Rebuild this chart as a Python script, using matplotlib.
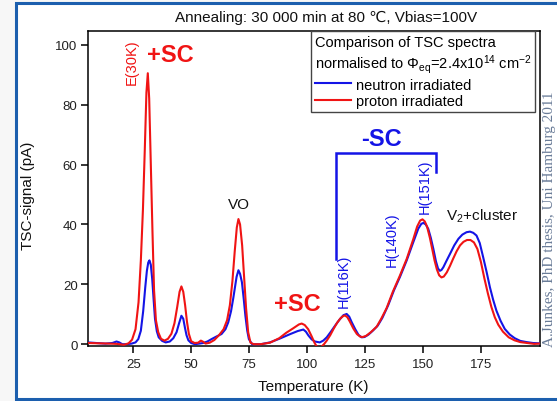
import matplotlib
matplotlib.use("Agg")
import matplotlib.pyplot as plt
from matplotlib.patches import Rectangle

plt.rcParams['font.family'] = ['Liberation Sans', 'DejaVu Sans']
plt.rcParams['mathtext.default'] = 'regular'

# ---- data ----
proton_T = [5.5, 10, 15, 18, 21, 23, 24.5, 26, 27.3, 28.3, 29.2, 30.0, 30.7, 31.3, 31.9, 32.6, 33.3, 34.0,
            34.8, 35.8, 37, 38.5, 40, 41.5, 42.8, 44, 45, 45.8, 46.6, 47.4, 48.2, 49, 50, 51.5, 53, 54.2,
            55.2, 56.2, 58, 60, 62, 64, 65.5, 66.7, 67.8, 68.8, 69.7, 70.4, 71.1, 72, 72.8, 73.7, 74.6,
            75.6, 77, 80, 84, 88, 91, 94, 96.5, 97.7, 99, 100.5, 102, 103.2, 104.2, 106, 107.3, 108.5,
            110, 111.5, 113, 114.5, 115.6, 116.4, 117.4, 118.5, 120, 121.5, 123, 124, 125.5, 127.5, 130,
            132, 134.3, 137, 140, 143, 145.8, 147.5, 148.8, 149.8, 150.8, 151.8, 153, 154, 155, 156, 157,
            158, 159, 160.3, 161.7, 163, 164.5, 166, 167.5, 169, 170.5, 172, 173.5, 175, 176.5, 178,
            179.5, 181, 182.5, 184.5, 187, 189.5, 192, 195, 198, 200]
proton_Y = [0.4, 0.3, 0.2, 0.1, -0.2, 0.3, 1.5, 5, 14, 28, 45, 65, 84, 90.5, 82, 60, 38, 18,
            8, 4, 1.8, 1.2, 1.8, 3.5, 7, 12.5, 17.5, 19.3, 17.5, 13, 7.5, 3.5, 1, 0.4, 0.5, 1.2,
            0.8, 0.2, 0.5, 1.4, 3, 5, 8, 13, 21, 31, 39, 41.8, 40, 33, 23, 12, 4,
            0.5, 0, 0, 0.5, 2, 3.8, 5.3, 6.6, 6.9, 6.4, 5, 2.6, 0.5, -0.8, -1, 0, 1.2,
            3, 5.2, 7.2, 8.7, 9.4, 9.6, 9, 7.5, 5.2, 3.4, 2.5, 2.4, 2.8, 4, 5.8,
            8.5, 12, 17.5, 22.8, 28.5, 35, 39.3, 41.3, 41.7, 41, 39.2, 35.5, 31.8, 28, 25, 23,
            22.3, 22.6, 24, 26.2, 28.5, 31, 33, 34.2, 34.8, 34.8, 34, 31.8, 27.5, 22, 17,
            12.5, 9, 6.5, 4.2, 2.3, 1.3, 0.7, 0.4, 0.1, 0.2]

neutron_T = [5.5, 9, 13, 16, 17.8, 19, 20.3, 22, 24.3, 26, 27.2, 28.3, 29.3, 30.2, 30.9, 31.5, 32.0, 32.6,
             33.2, 33.8, 34.4, 35.2, 36, 37.5, 39, 40.8, 42.3, 43.7, 44.8, 45.8, 46.6, 47.3, 48, 48.8,
             50, 51.6, 53.5, 55.2, 57, 58.8, 61, 63.1, 64.8, 66, 67.2, 68.2, 68.9, 69.6, 70.4, 71.1,
             71.9, 72.7, 73.4, 74.2, 74.9, 76.3, 80, 84, 88, 92.8, 96, 98.4, 99.5, 100.6, 102, 103.4,
             105.5, 107, 108.5, 110.3, 112.1, 114, 115.7, 117.1, 118.2, 119.3, 120.8, 122.2, 123.5,
             124.8, 126.5, 128.5, 130.5, 132.5, 135, 137.5, 140.1, 143, 145.8, 148, 149.3, 150.2, 151.2,
             152.3, 153.4, 154.5, 155.6, 156.5, 157.3, 158, 158.8, 160, 161.7, 163.5, 165.3, 167, 168.8,
             170.3, 171.7, 173.1, 174.5, 176, 177.5, 178.9, 180.3, 181.7, 183.5, 185.3, 187.5, 189.6,
             192, 194.7, 197.5, 200]
neutron_Y = [0.6, 0.4, 0.2, 0.4, 0.9, 0.6, 0, 0, 0.2, 0.6, 1.7, 4.5, 11, 19, 24.5, 27.3, 28, 26.5,
             21.8, 15, 8.5, 4.3, 2.3, 1.1, 0.6, 0.9, 2, 4, 7, 9.5, 8.5, 5.6, 3, 1.3,
             0.4, 0, 0.2, 0.4, 0.9, 1.7, 2.6, 3.4, 5, 7.3, 11, 15.5, 19, 22.5, 24.7, 23.5,
             20.7, 15, 9.5, 4.5, 1.7, 0, 0, 0.6, 1.8, 3.4, 4.4, 4.9, 4.2, 2.9, 1.6, 0.9,
             0.6, 1.2, 2.3, 4.2, 6.2, 8.2, 9.7, 10.1, 9.2, 7.3, 5, 3.1, 2.3,
             2.4, 3.2, 4.6, 6.2, 8.8, 13, 18, 22.5, 28, 34, 38.6, 40.2, 40.5, 40,
             38.5, 35.5, 31.8, 27.7, 25.3, 24.5, 24.8, 25.7, 27.6, 30.2, 33, 35.2, 36.6, 37.4,
             37.6, 37.2, 36.3, 33.8, 29, 24, 19, 14.8, 11.2, 7.8, 5.1, 3.2, 2,
             1.1, 0.7, 0.4, 0.3]

x_ticks = [25, 50, 75, 100, 125, 150, 175]
y_ticks = [0, 20, 40, 60, 80, 100]

RED = '#f01414'
BLUE = '#1414e6'

fig = plt.figure(figsize=(5.57, 4.02), dpi=100, facecolor='#f7f7f7')
border = Rectangle((16 / 557, 2 / 402), 1.2, 396 / 402, transform=fig.transFigure,
                   facecolor='white', edgecolor='#1c5fae', linewidth=2.2, zorder=-5, clip_on=False)
fig.add_artist(border)

ax = fig.add_axes([88 / 557, 1 - 347 / 402, 452 / 557, 315 / 402])
ax.set_facecolor('white')

ln_n, = ax.plot(neutron_T, neutron_Y, color=BLUE, lw=1.5, label='neutron irradiated', zorder=3)
ln_p, = ax.plot(proton_T, proton_Y, color=RED, lw=1.5, label='proton irradiated', zorder=4)

ax.set_xlim(5.5, 200.5)
ax.set_ylim(-0.6, 104.6)
ax.set_xticks(x_ticks)
ax.set_yticks(y_ticks)
ax.tick_params(direction='out', length=5, width=1.1, labelsize=9.5, colors='black',
               labelcolor='#222222', top=False, right=False)
ax.tick_params(axis='x', pad=4)
ax.tick_params(axis='y', pad=2.5)
for s in ax.spines.values():
    s.set_linewidth(1.1)
    s.set_color('black')

leg = ax.legend(handles=[ln_n, ln_p], loc='upper right', bbox_to_anchor=(0.989, 1.0),
                borderaxespad=0, fontsize=10.5,
                title='Comparison of TSC spectra\nnormalised to Φ$_{eq}$=2.4x10$^{14}$ cm$^{-2}$',
                title_fontsize=10.5, alignment='left', fancybox=False, framealpha=1,
                edgecolor='#444444', handlelength=2.5, handletextpad=0.3, labelspacing=0.2,
                borderpad=0.25)
leg.get_frame().set_linewidth(1.0)

# annotations
ax.text(24.4, 94.6, 'E(30K)', rotation=90, color=RED, fontsize=10.5, ha='center', va='center')
ax.text(41, 96.6, '+SC', color=RED, fontsize=17, fontweight='bold', ha='center', va='center')
ax.text(95.7, 13.5, '+SC', color=RED, fontsize=17, fontweight='bold', ha='center', va='center')
ax.text(131.9, 68.6, '-SC', color=BLUE, fontsize=17, fontweight='bold', ha='center', va='center')
ax.plot([112.4, 112.4, 155.5, 155.5], [28.5, 63.9, 63.9, 57.6], color=BLUE, lw=1.8,
        solid_joinstyle='miter', zorder=5)
ax.text(115.9, 21.5, 'H(116K)', rotation=90, color=BLUE, fontsize=10.5, ha='center', va='center')
ax.text(136.6, 35.4, 'H(140K)', rotation=90, color=BLUE, fontsize=10.5, ha='center', va='center')
ax.text(150.9, 53, 'H(151K)', rotation=90, color=BLUE, fontsize=10.5, ha='center', va='center')
ax.text(70.7, 46.8, 'VO', color='#111111', fontsize=11, ha='center', va='center')
ax.text(160, 43.2, 'V$_2$+cluster', color='#111111', fontsize=11, ha='left', va='center')

fig.text(0.586, 0.955, 'Annealing: 30 000 min at 80 ℃, Vbias=100V', fontsize=11,
         ha='center', va='center', color='#111111')
fig.text(28 / 557, 0.512, 'TSC-signal (pA)', rotation=90, fontsize=11, ha='center', va='center',
         color='#111111')
fig.text(313 / 557, 1 - 386.7 / 402, 'Temperature (K)', fontsize=11, ha='center', va='center',
         color='#111111')
fig.text(549.5 / 557, 1 - 219 / 402, 'A.Junkes, PhD thesis, Uni Hamburg 2011', rotation=90,
         family='Liberation Serif', fontsize=11, color='#6a7c98', ha='center', va='center')

fig.savefig('out.png', dpi=100, facecolor=fig.get_facecolor())
